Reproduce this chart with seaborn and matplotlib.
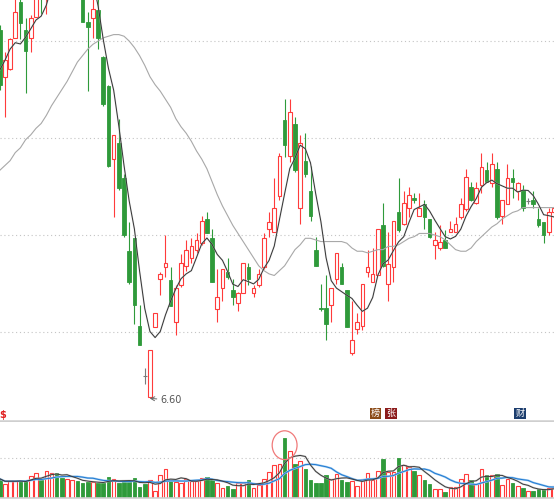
import numpy as np
import pandas as pd
import matplotlib
matplotlib.use("Agg")
import matplotlib.pyplot as plt
from matplotlib.patches import Ellipse
import seaborn as sns

# ---- daily bars ----
opens = [8.87, 8.58, 8.63, 8.82, 9.04, 8.87, 8.82, 8.95, 9.20, 9.12,
         9.24, 9.50, 9.45, 9.35, 9.48, 9.62, 9.20, 8.92, 8.94, 8.99,
         8.70, 8.52, 8.07, 8.17, 7.95, 7.50, 7.58, 7.04, 6.73, 6.60,
         7.03, 7.33, 7.40, 7.32, 7.06, 7.29, 7.41, 7.46, 7.51, 7.55,
         7.70, 7.58, 7.14, 7.27, 7.37, 7.26, 7.18, 7.24, 7.40, 7.24,
         7.29, 7.40, 7.64, 7.62, 7.84, 8.31, 8.09, 8.29, 7.77, 8.06,
         7.87, 7.51, 7.15, 7.15, 7.17, 7.33, 7.40, 7.26, 6.87, 7.02,
         7.04, 7.37, 7.31, 7.35, 7.66, 7.30, 7.40, 7.74, 7.67, 7.77,
         7.83, 7.72, 7.79, 7.70, 7.54, 7.52, 7.57, 7.62, 7.62, 7.71,
         7.76, 7.90, 7.80, 7.91, 8.00, 7.92, 8.01, 7.72, 7.79, 7.95,
         7.87, 7.88, 7.81, 7.82, 7.70, 7.68, 7.62, 7.74]
highs = [8.90, 8.73, 8.82, 9.08, 9.08, 8.94, 8.96, 9.12, 9.25, 9.30,
         9.38, 9.58, 9.52, 9.56, 9.68, 9.66, 9.25, 8.98, 9.06, 9.06,
         8.71, 8.53, 8.22, 8.32, 7.98, 7.68, 7.58, 7.17, 6.78, 6.89,
         7.12, 7.37, 7.60, 7.40, 7.29, 7.48, 7.57, 7.58, 7.61, 7.72,
         7.74, 7.64, 7.39, 7.39, 7.46, 7.33, 7.25, 7.43, 7.43, 7.29,
         7.39, 7.61, 7.74, 7.95, 8.11, 8.44, 8.44, 8.33, 8.22, 8.23,
         8.03, 7.59, 7.30, 7.35, 7.27, 7.49, 7.43, 7.26, 7.19, 7.12,
         7.30, 7.51, 7.52, 7.64, 7.80, 7.62, 7.69, 7.95, 7.87, 7.90,
         7.86, 7.86, 7.82, 7.70, 7.62, 7.66, 7.63, 7.69, 7.71, 7.83,
         8.01, 7.93, 7.93, 8.11, 8.05, 8.11, 8.05, 7.82, 8.04, 8.01,
         7.93, 7.91, 7.83, 7.87, 7.77, 7.68, 7.77, 7.78]
lows = [8.50, 8.33, 8.62, 8.82, 8.81, 8.48, 8.73, 8.95, 8.97, 8.97,
        9.20, 9.36, 9.30, 9.32, 9.45, 9.40, 8.92, 8.49, 8.82, 8.75,
        8.40, 8.02, 7.71, 7.88, 7.59, 7.30, 7.05, 6.92, 6.68, 6.60,
        7.03, 7.23, 7.34, 7.16, 6.98, 7.28, 7.38, 7.43, 7.49, 7.54,
        7.61, 7.31, 7.06, 7.19, 7.33, 7.17, 7.13, 7.24, 7.29, 7.22,
        7.28, 7.39, 7.59, 7.62, 7.82, 8.08, 8.05, 7.99, 7.67, 7.96,
        7.69, 7.41, 7.13, 6.95, 7.06, 7.30, 7.30, 7.03, 6.86, 6.99,
        7.01, 7.34, 7.31, 7.35, 7.40, 7.19, 7.31, 7.62, 7.66, 7.71,
        7.80, 7.72, 7.64, 7.58, 7.45, 7.51, 7.52, 7.62, 7.62, 7.70,
        7.75, 7.81, 7.79, 7.86, 7.93, 7.90, 7.70, 7.67, 7.79, 7.83,
        7.82, 7.75, 7.79, 7.77, 7.65, 7.55, 7.60, 7.73]
closes = [8.53, 8.68, 8.81, 8.98, 8.91, 8.74, 8.94, 9.08, 9.10, 9.25,
          9.30, 9.40, 9.35, 9.50, 9.60, 9.45, 8.92, 8.89, 9.00, 8.82,
          8.41, 8.03, 8.22, 7.89, 7.60, 7.31, 7.17, 6.92, 6.73, 6.89,
          7.12, 7.36, 7.43, 7.16, 7.27, 7.43, 7.51, 7.53, 7.57, 7.69,
          7.61, 7.31, 7.22, 7.39, 7.34, 7.22, 7.24, 7.43, 7.33, 7.27,
          7.36, 7.58, 7.68, 7.77, 8.09, 8.16, 8.36, 8.00, 8.17, 7.98,
          7.72, 7.41, 7.14, 7.05, 7.27, 7.49, 7.30, 7.03, 6.95, 7.06,
          7.30, 7.40, 7.36, 7.64, 7.41, 7.42, 7.69, 7.63, 7.80, 7.85,
          7.82, 7.77, 7.71, 7.59, 7.57, 7.56, 7.52, 7.64, 7.67, 7.79,
          7.96, 7.82, 7.89, 8.02, 7.93, 8.04, 7.71, 7.82, 7.95, 7.93,
          7.92, 7.77, 7.81, 7.79, 7.66, 7.60, 7.74, 7.77]
volumes = [48, 36, 42, 42, 44, 42, 55, 63, 44, 67,
           63, 63, 50, 48, 44, 42, 37.5, 40, 40, 38,
           38, 52, 48, 37.5, 40, 40, 50, 27, 34, 44,
           18, 58, 73, 43, 40, 37.5, 48, 42, 42, 50,
           53, 44, 38, 26, 30, 22.5, 37.5, 37.5, 46, 25,
           33, 48, 65, 83, 86, 151, 117, 86, 92, 73,
           44, 37.5, 37.5, 57, 48, 61, 46, 40, 42, 31,
           48, 62, 44, 67, 97, 65, 65, 100, 83, 77.5,
           67, 57, 46, 34, 23, 22, 15, 27.5, 27.5, 47,
           61, 44, 36, 73, 57, 58, 61, 33, 47, 38,
           30, 25, 18, 17.5, 22, 22, 25, 29]

# 5-day average for the first four days (needs earlier history)
ma5_head = [8.62, 8.68, 8.75, 8.79]
# long moving average as drawn
ma_long = [8.00, 8.03, 8.06, 8.11, 8.14, 8.19, 8.22, 8.26, 8.29, 8.34,
           8.40, 8.45, 8.50, 8.55, 8.61, 8.67, 8.71, 8.75, 8.78, 8.80,
           8.82, 8.83, 8.84, 8.84, 8.83, 8.80, 8.76, 8.71, 8.65, 8.58,
           8.53, 8.49, 8.44, 8.39, 8.32, 8.27, 8.23, 8.18, 8.12, 8.07,
           8.01, 7.93, 7.85, 7.78, 7.72, 7.66, 7.61, 7.56, 7.51, 7.46,
           7.41, 7.38, 7.36, 7.35, 7.38, 7.41, 7.46, 7.51, 7.54, 7.58,
           7.58, 7.57, 7.56, 7.56, 7.56, 7.56, 7.56, 7.55, 7.52, 7.50,
           7.50, 7.49, 7.50, 7.51, 7.51, 7.53, 7.53, 7.54, 7.56, 7.58,
           7.59, 7.61, 7.61, 7.61, 7.60, 7.59, 7.57, 7.54, 7.51, 7.50,
           7.50, 7.52, 7.56, 7.59, 7.62, 7.65, 7.67, 7.70, 7.72, 7.74,
           7.75, 7.77, 7.77, 7.77, 7.77, 7.77, 7.77, 7.77]

low_label = "6.60"
badges = [("榜", 72.55, "#8b4a16"), ("张", 75.54, "#8c1c1c"), ("财", 100.45, "#1d3e6e")]
price_grid = [7.0, 7.6, 8.2, 8.8]
vol_grid = [100]

RED = "#ff3b3b"
GREEN = "#2f9a3a"
FLAT = "#7a7a7a"

df = pd.DataFrame({"open": opens, "high": highs, "low": lows,
                   "close": closes, "volume": volumes})
df["idx"] = np.arange(len(df))
df["ma5"] = df["close"].rolling(5).mean()
df.loc[:3, "ma5"] = ma5_head
df["ma_long"] = ma_long
df["vma5"] = df["volume"].rolling(5, min_periods=1).mean()
df["vma10"] = df["volume"].rolling(10, min_periods=1).mean()

up = df["close"] > df["open"]
down = df["close"] < df["open"]
flat = ~(up | down)
prev_close = df["close"].shift(1)
vol_up = up | (flat & (df["close"] >= prev_close))
candle_col = np.where(up, RED, np.where(down, GREEN, FLAT))

sns.set_style("white")
plt.rcParams["font.family"] = ["DejaVu Sans", "Noto Sans CJK SC"]

fig = plt.figure(figsize=(5.54, 5.04), dpi=100)
ax = fig.add_axes([0, 1 - 421 / 504, 1, 421 / 504])
axv = fig.add_axes([0, 1 - 498 / 504, 1, 76 / 504])

W = 0.7
# ---- price panel ----
ax.vlines(df["idx"], df["low"], df["high"], colors=candle_col, lw=0.8, zorder=2)
body_lo = df[["open", "close"]].min(axis=1)
body_h = (df["close"] - df["open"]).abs()
ax.bar(df["idx"][up], body_h[up], bottom=body_lo[up], width=W,
       facecolor="white", edgecolor=RED, lw=0.8, zorder=3)
ax.bar(df["idx"][down], body_h[down], bottom=body_lo[down], width=W,
       facecolor=GREEN, edgecolor=GREEN, lw=0.6, zorder=3)
ax.hlines(df["close"][flat], df["idx"][flat] - W / 2, df["idx"][flat] + W / 2,
          colors=FLAT, lw=0.8, zorder=3)

sns.lineplot(data=df, x="idx", y="ma_long", ax=ax, color="#a8a8a8", lw=0.8, zorder=4)
sns.lineplot(data=df, x="idx", y="ma5", ax=ax, color="#c8c8c8", lw=1.3, alpha=0.5, zorder=4)
sns.lineplot(data=df, x="idx", y="ma5", ax=ax, color="#333333", lw=0.7, zorder=5)

low_i = int(df["low"].idxmin())
ax.annotate(low_label, xy=(low_i - 0.05, 6.59), xytext=(low_i + 1.95, 6.58),
            fontsize=7, color="#555555", ha="left", va="center",
            arrowprops=dict(arrowstyle="->", color="#666666", lw=0.7,
                            shrinkA=0, shrinkB=0))

tr = ax.get_xaxis_transform()
ax.text(0.65, 0.003, "$", transform=tr, color="#e02020", fontsize=7,
        fontweight="bold", ha="center", va="bottom")
for ch, xi, col in badges:
    ax.text(xi, 0.018, ch, transform=tr, color="white", fontsize=6.5,
            family=["Noto Sans CJK SC"], ha="center", va="center",
            bbox=dict(boxstyle="square,pad=0.12", fc=col, ec="none"))

ax.set_xlim(0.058, 107.0)
ax.set_ylim(6.45, 9.054)
ax.set_yticks(price_grid)
ax.set_xticks([])
ax.yaxis.grid(True, linestyle=(0, (1, 2.5)), color="#c4c4c4", lw=0.8)
ax.tick_params(left=False, labelleft=False, bottom=False, labelbottom=False)
ax.set_xlabel("")
ax.set_ylabel("")
for s in ["top", "left", "right"]:
    ax.spines[s].set_visible(False)
ax.spines["bottom"].set_color("#cfcfcf")
ax.spines["bottom"].set_linewidth(1.8)

# ---- volume panel ----
vol_col_up = vol_up.values
axv.bar(df["idx"][vol_col_up], df["volume"][vol_col_up], width=W,
        facecolor="white", edgecolor=RED, lw=0.8, zorder=2)
axv.bar(df["idx"][~vol_col_up], df["volume"][~vol_col_up], width=W,
        facecolor=GREEN, edgecolor=GREEN, lw=0.6, zorder=2)

sns.lineplot(data=df, x="idx", y="vma10", ax=axv, color="#9ccaf0", lw=1.5, zorder=3)
sns.lineplot(data=df, x="idx", y="vma10", ax=axv, color="#1f78d1", lw=0.7, zorder=4)
sns.lineplot(data=df, x="idx", y="vma5", ax=axv, color="#b8b8b8", lw=1.4, alpha=0.6, zorder=3)
sns.lineplot(data=df, x="idx", y="vma5", ax=axv, color="#3a3a3a", lw=0.7, zorder=4)

peak_i = int(df["volume"].idxmax())
axv.add_patch(Ellipse((peak_i, 132), width=4.8, height=72, fill=False,
                      edgecolor="#f07a7a", lw=0.9, zorder=5))

axv.set_xlim(0.058, 107.0)
axv.set_ylim(0, 190)
axv.set_yticks(vol_grid)
axv.set_xticks([])
axv.yaxis.grid(True, linestyle=(0, (1, 2.5)), color="#c4c4c4", lw=0.8)
axv.tick_params(left=False, labelleft=False, bottom=False, labelbottom=False)
axv.set_xlabel("")
axv.set_ylabel("")
for s in ["top", "left", "right"]:
    axv.spines[s].set_visible(False)
axv.spines["bottom"].set_color("#cfcfcf")
axv.spines["bottom"].set_linewidth(1.2)

fig.savefig("out.png", dpi=100)
